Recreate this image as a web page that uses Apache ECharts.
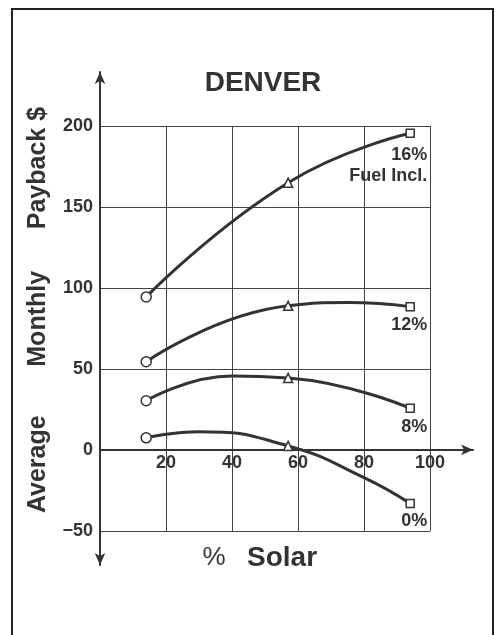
<!DOCTYPE html>
<html><head><meta charset="utf-8">
<script src="https://cdn.jsdelivr.net/npm/echarts@6/dist/echarts.min.js"></script>
<style>html,body{margin:0;padding:0;background:#fff}#c{width:497px;height:635px}</style>
</head><body><div id="c"></div>
<script>
// ---- data ----
const xValues = [14, 57, 94];                 // % Solar at the marked points
const series16 = [94.5, 165, 195.5];
const series12 = [54.5, 89, 88.5];
const series8 = [30.4, 44.5, 25.7];
const series0 = [7.5, 2.5, -33];
const trace16 = [];
const trace12 = [[75, 91]];
const trace8 = [[40, 45.7]];
const trace0 = [[30, 11.3], [80, -17]];
const seriesNames = ['16%', '12%', '8%', '0%'];
const seriesEndLabels = ['16%\nFuel Incl.', '12%', '8%', '0%'];
const xTickLabels = ['20', '40', '60', '80', '100'];
const yTickLabels = ['−50', '0', '50', '100', '150', '200'];
const pointSymbols = ['circle', 'triangle', 'rect'];
const chartTitle = 'DENVER';
const yTitle = 'Average       Monthly      Payback $';
const xTitlePct = '%';
const xTitleWord = 'Solar';

// ---- style ----
const FONT = '"Liberation Sans", Arial, Helvetica, sans-serif';
const INK = '#333';
const symSizes = [10, 9, 8];
const labelOffsetY = [3, 0, 0, -1];
const allSeries = [series16, series12, series8, series0];
const allTraces = [trace16, trace12, trace8, trace0];

function buildData(vals, trace, i) {
  const pts = vals.map((v, j) => {
    const d = {value: [xValues[j], v], symbol: pointSymbols[j], symbolSize: symSizes[j]};
    if (j === vals.length - 1) {
      d.label = {show: true, formatter: seriesEndLabels[i], position: 'bottom', distance: 3,
        align: 'right', offset: [17, labelOffsetY[i]], fontSize: 18, fontWeight: 'bold', color: INK,
        fontFamily: FONT, lineHeight: 21};
    }
    return d;
  });
  trace.forEach(p => pts.push({value: [p[0], p[1]], symbol: 'none'}));
  pts.sort((a, b) => a.value[0] - b.value[0]);
  return pts;
}

const hidden = {axisLine: {show: false}, axisTick: {show: false}, axisLabel: {show: false}, splitLine: {show: false}};

const chart = echarts.init(document.getElementById('c'), null, {renderer: 'canvas'});
const option = {
  animation: false,
  backgroundColor: '#fff',
  grid: [
    {left: 100, right: 67, top: 126, bottom: 104},   // plot grid
    {left: 100, right: 24, top: 72, bottom: 70},     // arrowed axes
    {left: 100, right: 67, top: 126, bottom: 185}    // x tick labels along the zero line
  ],
  xAxis: [
    {
      type: 'value', gridIndex: 0, min: 0, max: 100, interval: 20,
      axisLine: {show: false}, axisTick: {show: false}, axisLabel: {show: false},
      splitLine: {show: true, lineStyle: {color: '#444', width: 1}}
    },
    Object.assign({type: 'value', gridIndex: 1, min: 0, max: 113}, hidden, {
      axisLine: {show: true, onZero: true, symbol: ['none', 'arrow'], symbolSize: [8, 12],
        lineStyle: {color: INK, width: 2}}
    }),
    Object.assign({type: 'value', gridIndex: 2, min: 0, max: 100, interval: 20}, hidden, {
      axisLabel: {
        show: true, fontSize: 18, fontWeight: 'bold', color: INK, fontFamily: FONT, margin: 4,
        formatter: v => { const s = String(v); return xTickLabels.indexOf(s) >= 0 ? s : ''; }
      }
    })
  ],
  yAxis: [
    {
      type: 'value', gridIndex: 0, min: -50, max: 200, interval: 50,
      axisLine: {show: false}, axisTick: {show: false},
      axisLabel: {
        fontSize: 18, fontWeight: 'bold', color: INK, fontFamily: FONT, margin: 7,
        formatter: v => { const l = yTickLabels.find(t => Number(t.replace('−', '-')) === v); return l || ''; }
      },
      splitLine: {show: true, lineStyle: {color: '#444', width: 1}}
    },
    Object.assign({type: 'value', gridIndex: 1, min: -71, max: 233}, hidden, {
      axisLine: {show: true, onZero: false, symbol: ['arrow', 'arrow'], symbolSize: [8, 12],
        lineStyle: {color: INK, width: 2}}
    }),
    Object.assign({type: 'value', gridIndex: 2, min: 0, max: 200}, hidden)
  ],
  graphic: [
    {type: 'rect', silent: true, z: 100,
      shape: {x: 12, y: 9, width: 481, height: 700},
      style: {fill: 'none', stroke: '#222', lineWidth: 2}},
    {type: 'text', x: 263, y: 83, z: 100,
      style: {text: chartTitle, fill: INK, fontSize: 28, fontWeight: 'bold', fontFamily: FONT,
        align: 'center', verticalAlign: 'middle'}},
    {type: 'text', x: 38, y: 310, rotation: Math.PI / 2, z: 100,
      style: {text: yTitle, fill: INK, fontSize: 25, fontWeight: 'bold', fontFamily: FONT,
        align: 'center', verticalAlign: 'middle'}},
    {type: 'text', x: 214, y: 558, z: 100,
      style: {text: xTitlePct, fill: INK, fontSize: 26, fontWeight: 'normal', fontFamily: FONT,
        align: 'center', verticalAlign: 'middle'}},
    {type: 'text', x: 247, y: 558, z: 100,
      style: {text: xTitleWord, fill: INK, fontSize: 28, fontWeight: 'bold', fontFamily: FONT,
        align: 'left', verticalAlign: 'middle'}}
  ],
  series: allSeries.map((vals, i) => ({
    type: 'line', name: seriesNames[i], xAxisIndex: 0, yAxisIndex: 0,
    smooth: 0.5, showAllSymbol: true, z: 5,
    lineStyle: {color: INK, width: 3},
    itemStyle: {color: '#fff', borderColor: INK, borderWidth: 1.5},
    data: buildData(vals, allTraces[i], i)
  }))
};
chart.setOption(option);
</script></body></html>
